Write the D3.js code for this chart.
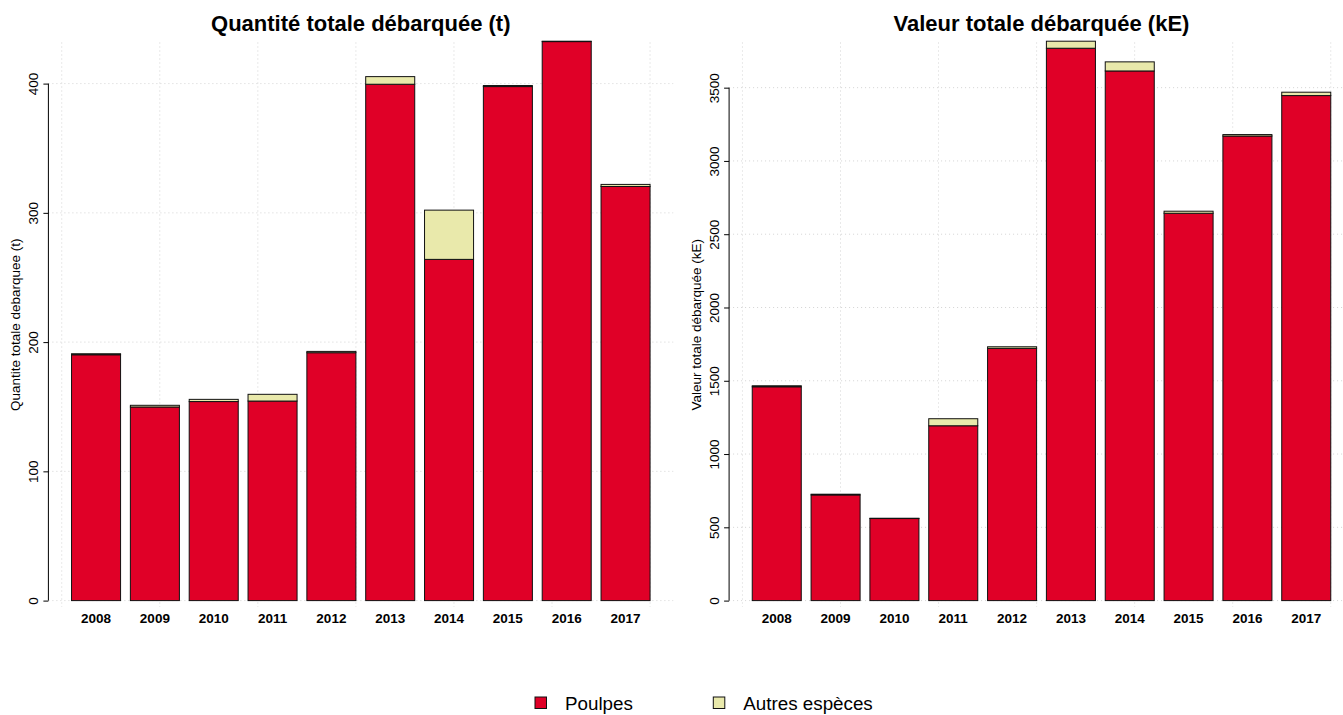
<!DOCTYPE html>
<html>
<head>
<meta charset="utf-8">
<script src="https://cdn.jsdelivr.net/npm/d3@7"></script>
<style>
  body { margin: 0; background: #FFFFFF; }
  svg { display: block; font-family: "Liberation Sans", Arial, sans-serif; }
</style>
</head>
<body>
<div class="visual-data"></div>
<script>
// data
const years = ["2008", "2009", "2010", "2011", "2012", "2013", "2014", "2015", "2016", "2017"];
const quantPoulpes = [190.2, 149.8, 154.0, 154.4, 191.8, 399.5, 264.0, 397.7, 432.5, 320.4];
const quantAutres = [0.8, 1.3, 1.7, 5.2, 1.0, 5.9, 38.1, 0.8, 0.3, 1.6];
const valPoulpes = [1459, 721, 560, 1193, 1721, 3769, 3614, 2643, 3170, 3446];
const valAutres = [7, 5, 2, 48, 11, 48, 62, 14, 10, 23];
const quantTicks = [0, 100, 200, 300, 400];
const valTicks = [0, 500, 1000, 1500, 2000, 2500, 3000, 3500];
const seriesNames = ["Poulpes", "Autres espèces"];
const colors = ["#E00027", "#E9E9AB"];

const width = 1343;
const height = 715;
const panelOffset = 680.7;
const space = 0.2;

var svgContainer = d3.select(".visual-data")
  .append("svg")
  .attr("width", width)
  .attr("height", height)
  .style("background-color", "#FFFFFF");

function drawPanel(ox, title, yTitle, poulpes, autres, ticks) {
  const g = svgContainer.append("g").attr("transform", "translate(" + ox + ",0)");
  const n = years.length;
  // bar units like R barplot (width 1, space 0.2), 4% expansion
  const xmax = n * (1 + space);
  const ext = (xmax - space) * 0.04;
  const xScale = d3.scaleLinear()
    .domain([space - ext, xmax + ext])
    .range([48.4, 673.2]);
  const totals = poulpes.map((d, i) => d + autres[i]);
  const yScale = d3.scaleLinear()
    .domain([0, d3.max(totals)])
    .range([600.6, 41.2]);
  const plotTop = 42.5;
  const plotBottom = yScale(0) + 6.4;

  // grid
  const gridV = d3.range(0, xmax + 0.01, 2);
  g.selectAll(".gridv").data(gridV).enter().append("line")
    .attr("x1", d => xScale(d)).attr("x2", d => xScale(d))
    .attr("y1", plotTop).attr("y2", plotBottom)
    .attr("stroke", "#d3d3d3").attr("stroke-dasharray", "1,3");
  g.selectAll(".gridh").data(ticks).enter().append("line")
    .attr("x1", xScale.range()[0]).attr("x2", xScale.range()[1])
    .attr("y1", d => yScale(d)).attr("y2", d => yScale(d))
    .attr("stroke", "#d3d3d3").attr("stroke-dasharray", "1,3");

  // stacked bars
  const stack = d3.stack().keys([0, 1])
    .value((d, k) => k === 0 ? d.p : d.a);
  const rows = years.map((y, i) => ({ year: y, i: i, p: poulpes[i], a: autres[i] }));
  const layers = stack(rows);
  layers.forEach((layer, k) => {
    g.selectAll(".bar" + k).data(layer).enter().append("rect")
      .attr("x", (d, i) => xScale(i * (1 + space) + space))
      .attr("width", xScale(1) - xScale(0))
      .attr("y", d => yScale(d[1]))
      .attr("height", d => yScale(d[0]) - yScale(d[1]))
      .attr("fill", colors[k])
      .attr("stroke", "#111")
      .attr("stroke-width", 1);
  });

  // y axis
  const yAxis = d3.axisLeft(yScale).tickValues(ticks).tickFormat(d3.format("d"))
    .tickSize(5).tickSizeOuter(0);
  const ax = g.append("g")
    .attr("transform", "translate(" + xScale.range()[0] + ",0)")
    .call(yAxis);
  ax.select(".domain").remove();
  ax.selectAll(".tick line").attr("stroke", "#000");
  ax.selectAll(".tick text")
    .attr("transform", "rotate(-90)")
    .attr("x", 0).attr("y", -15).attr("dy", "0.35em")
    .attr("text-anchor", "middle")
    .style("font-size", "13.5px")
    .style("font-family", "Liberation Sans, Arial, sans-serif")
    .attr("fill", "#000");
  ax.append("line")
    .attr("x1", 0).attr("x2", 0)
    .attr("y1", yScale(ticks[0])).attr("y2", yScale(ticks[ticks.length - 1]))
    .attr("stroke", "#000");

  // x labels
  g.selectAll(".year").data(years).enter().append("text")
    .attr("x", (d, i) => xScale(i * (1 + space) + space + 0.5))
    .attr("y", 623)
    .attr("text-anchor", "middle")
    .style("font-size", "13.5px")
    .style("font-weight", "bold")
    .text(d => d);

  // titles
  g.append("text")
    .attr("x", (xScale.range()[0] + xScale.range()[1]) / 2)
    .attr("y", 31)
    .attr("text-anchor", "middle")
    .style("font-size", "22px")
    .style("font-weight", "bold")
    .text(title);
  g.append("text")
    .attr("transform", "translate(15.5," + ((plotTop + plotBottom) / 2) + ") rotate(-90)")
    .attr("text-anchor", "middle")
    .attr("dy", "0.35em")
    .style("font-size", "13.5px")
    .text(yTitle);
}

drawPanel(0, "Quantité totale débarquée (t)", "Quantite totale debarquee (t)", quantPoulpes, quantAutres, quantTicks);
drawPanel(panelOffset, "Valeur totale débarquée (kE)", "Valeur totale débarquée (kE)", valPoulpes, valAutres, valTicks);

// legend
const legendX = [535, 713.3];
const legend = svgContainer.append("g");
legend.selectAll("rect").data(seriesNames).enter().append("rect")
  .attr("x", (d, i) => legendX[i]).attr("y", 697)
  .attr("width", 11.5).attr("height", 11.5)
  .attr("fill", (d, i) => colors[i])
  .attr("stroke", "#111");
legend.selectAll("text").data(seriesNames).enter().append("text")
  .attr("x", (d, i) => legendX[i] + 30)
  .attr("y", 709.5)
  .style("font-size", "18.8px")
  .text(d => d);
</script>
</body>
</html>
